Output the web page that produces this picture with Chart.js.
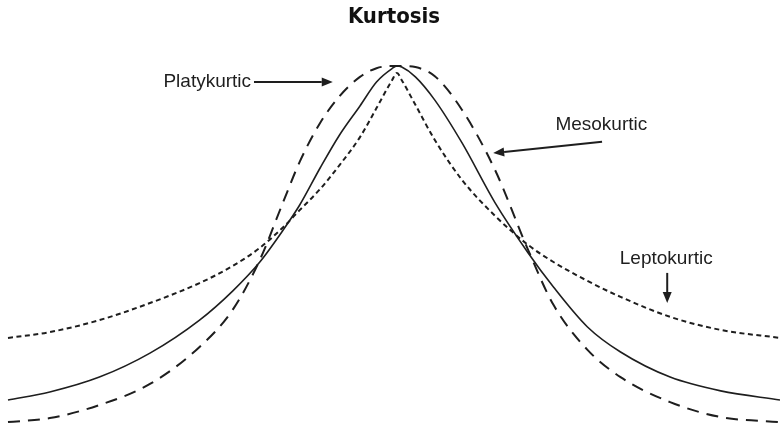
<!DOCTYPE html>
<html>
<head>
<meta charset="utf-8">
<script src="https://cdn.jsdelivr.net/npm/chart.js@4"></script>
<style>
  html, body { margin: 0; padding: 0; background: #fff; }
  #wrap { width: 780px; height: 429px; }
</style>
</head>
<body>
<div id="wrap"><canvas id="chart"></canvas></div>
<script>
// x positions in standard deviations from the mean
const zValues = [-4.0, -3.57, -3.06, -2.54, -2.03, -1.69, -1.41, -1.17, -1.0, -0.79, -0.59, -0.38, -0.21, -0.05,
  0, 0.05, 0.19, 0.39, 0.67, 1.01, 1.35, 1.61, 1.96, 2.3, 2.81, 3.33, 3.94];

// relative height of each curve (peak = 100)
const mesokurtic = [8.0, 10.2, 14.3, 20.9, 30.0, 38.0, 46.0, 54.8, 61.7, 71.9, 81.0, 89.0, 95.6, 99.3,
  100, 99.7, 97.0, 90.6, 78.8, 62.3, 48.5, 39.1, 28.1, 21.2, 14.3, 10.5, 8.0];
const platykurtic = [1.9, 3.0, 6.6, 12.4, 22.6, 32.8, 46.6, 62.5, 73.6, 84.3, 91.7, 97.0, 99.4, 100,
  100, 100, 99.7, 97.2, 87.9, 71.3, 49.3, 34.2, 21.8, 14.3, 7.4, 3.3, 1.9];
const leptokurtic = [25.1, 26.7, 30.0, 34.7, 40.2, 44.9, 49.9, 55.6, 60.3, 66.1, 72.7, 80.4, 88.4, 96.1,
  98.1, 96.1, 89.3, 79.6, 68.6, 58.7, 50.7, 46.0, 40.8, 36.4, 30.9, 27.3, 25.1];

const titleText = 'Kurtosis';

// callouts: text anchor and arrow (from -> to), in data units
const callouts = [
  { text: 'Platykurtic', tx: -1.50, ty: 95.6, align: 'right', from: [-1.47, 95.6], to: [-0.66, 95.6] },
  { text: 'Mesokurtic', tx: 1.63, ty: 83.7, align: 'left', from: [2.11, 79.1], to: [0.99, 76.0] },
  { text: 'Leptokurtic', tx: 2.77, ty: 46.8, align: 'center', from: [2.78, 43.0], to: [2.78, 34.7] }
];

const ink = '#1e1e1e';

function toPoints(ys) {
  return zValues.map((z, i) => ({ x: z, y: ys[i] }));
}

function drawArrow(ctx, x1, y1, x2, y2) {
  const ang = Math.atan2(y2 - y1, x2 - x1);
  const headLen = 11, headW = 4.5;
  const bx = x2 - Math.cos(ang) * headLen;
  const by = y2 - Math.sin(ang) * headLen;
  ctx.beginPath();
  ctx.moveTo(x1, y1);
  ctx.lineTo(bx, by);
  ctx.stroke();
  ctx.beginPath();
  ctx.moveTo(x2, y2);
  ctx.lineTo(bx + Math.sin(ang) * headW, by - Math.cos(ang) * headW);
  ctx.lineTo(bx - Math.sin(ang) * headW, by + Math.cos(ang) * headW);
  ctx.closePath();
  ctx.fill();
}

const calloutPlugin = {
  id: 'callouts',
  afterDatasetsDraw(chart) {
    const ctx = chart.ctx;
    const xs = chart.scales.x, ys = chart.scales.y;
    ctx.save();
    ctx.fillStyle = ink;
    ctx.strokeStyle = ink;
    ctx.lineWidth = 2;
    ctx.font = '19px "Liberation Sans", Arial, sans-serif';
    ctx.textBaseline = 'middle';
    callouts.forEach(c => {
      ctx.textAlign = c.align;
      ctx.fillText(c.text, xs.getPixelForValue(c.tx), ys.getPixelForValue(c.ty));
      drawArrow(ctx,
        xs.getPixelForValue(c.from[0]), ys.getPixelForValue(c.from[1]),
        xs.getPixelForValue(c.to[0]), ys.getPixelForValue(c.to[1]));
    });
    ctx.restore();
  }
};

const common = {
  pointRadius: 0,
  borderColor: ink,
  fill: false,
  cubicInterpolationMode: 'monotone',
  clip: false
};

new Chart(document.getElementById('chart'), {
  type: 'line',
  data: {
    datasets: [
      Object.assign({ label: 'Mesokurtic', data: toPoints(mesokurtic), borderWidth: 1.6 }, common),
      Object.assign({ label: 'Platykurtic', data: toPoints(platykurtic), borderWidth: 2, borderDash: [12, 8] }, common),
      Object.assign({ label: 'Leptokurtic', data: toPoints(leptokurtic), borderWidth: 2, borderDash: [5, 3.5] }, common)
    ]
  },
  options: {
    responsive: true,
    maintainAspectRatio: false,
    animation: false,
    layout: { padding: { left: 8, right: 0, top: 0, bottom: 0 } },
    scales: {
      x: { type: 'linear', min: -4, max: 3.94, display: false },
      y: { min: 0, max: 100, display: false }
    },
    plugins: {
      legend: { display: false },
      tooltip: { enabled: false },
      title: {
        display: true,
        text: titleText,
        color: '#111',
        font: { family: '"Liberation Sans Narrow", "DejaVu Sans Condensed", sans-serif', size: 22, weight: 'bold' },
        padding: { top: 4, bottom: 35.6 }
      }
    }
  },
  plugins: [calloutPlugin]
});
</script>
</body>
</html>
